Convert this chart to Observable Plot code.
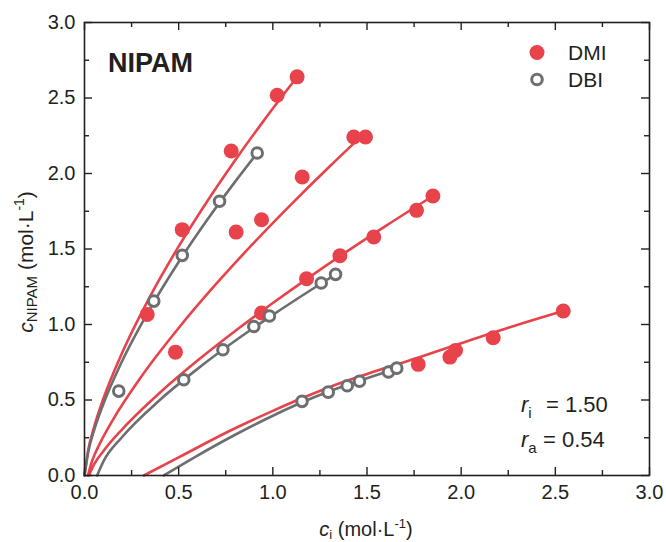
<!DOCTYPE html>
<html><head><meta charset="utf-8">
<script src="https://cdn.jsdelivr.net/npm/d3@7"></script>
<script src="https://cdn.jsdelivr.net/npm/@observablehq/plot@0.6"></script>
<style>body{margin:0;background:#fff} svg{display:block}</style>
</head><body><div id="chart"></div>
<script>
// ---- data ----
const dmiX = [0.333,0.519,0.779,1.023,1.129, 0.483,0.805,0.940,1.156,1.430,1.492, 0.940,1.179,1.356,1.536,1.763,1.850, 1.772,1.940,1.970,2.170,2.542];
const dmiY = [1.067,1.628,2.149,2.518,2.640, 0.817,1.612,1.694,1.977,2.242,2.242, 1.076,1.303,1.455,1.579,1.756,1.851, 0.736,0.784,0.828,0.912,1.089];
const dbiX = [0.182,0.368,0.519,0.717,0.917, 0.527,0.735,0.899,0.982,1.257,1.333, 1.155,1.294,1.395,1.460,1.614,1.658];
const dbiY = [0.559,1.155,1.458,1.816,2.136, 0.634,0.833,0.987,1.056,1.275,1.332, 0.491,0.552,0.594,0.624,0.685,0.711];

// fitted curves
const fitDMI1 = [[0,0],[0.02,0.17],[0.05,0.317],[0.1,0.508],[0.2,0.813],[0.35,1.19],[0.5,1.517],[0.65,1.813],[0.8,2.088],[0.95,2.347],[1.129,2.639]];
const fitDBI1 = [[0,0],[0.02,0.158],[0.05,0.295],[0.1,0.473],[0.2,0.758],[0.35,1.109],[0.5,1.414],[0.65,1.69],[0.8,1.946],[0.917,2.135]];
const fitDMI2 = [[0.018,0],[0.04,0.095],[0.08,0.208],[0.15,0.367],[0.3,0.652],[0.5,0.977],[0.7,1.27],[0.9,1.542],[1.1,1.799],[1.3,2.045],[1.457,2.231]];
const fitDMI3 = [[0.023,0],[0.05,0.072],[0.1,0.161],[0.2,0.306],[0.4,0.548],[0.6,0.761],[0.8,0.957],[1.0,1.142],[1.2,1.319],[1.4,1.489],[1.6,1.653],[1.85,1.851]];
const fitDBI3 = [[0.067,0],[0.1,0.092],[0.2,0.255],[0.4,0.5],[0.6,0.706],[0.8,0.892],[1.0,1.064],[1.2,1.227],[1.333,1.332]];
const fitDMI4 = [[0.315,0],[0.5,0.12],[0.775,0.298],[1.0,0.428],[1.147,0.508],[1.3,0.585],[1.5,0.672],[1.77,0.78],[2.0,0.876],[2.25,0.978],[2.542,1.089]];
const fitDBI4 = [[0.421,0],[0.6,0.132],[0.8,0.27],[1.0,0.396],[1.2,0.508],[1.4,0.602],[1.66,0.709]];

const majorTicks = [0,0.5,1,1.5,2,2.5,3];
const minorTicks = [0.25,0.75,1.25,1.75,2.25,2.75];
const tickLabels = ["0.0","0.5","1.0","1.5","2.0","2.5","3.0"];
const seriesNames = ["DMI","DBI"];
const annot = [["i","= 1.50"],["a","= 0.54"]];

// ---- styling ----
const RED = "#e8424b", GRAY = "#6d6e70", INK = "#231f20";
const W = 666, H = 542, mL = 84, mR = 17, mT = 22, mB = 67;
const pw = W - mL - mR, ph = H - mT - mB;

const dmi = dmiX.map((x,i)=>({x, y: dmiY[i]}));
const dbi = dbiX.map((x,i)=>({x, y: dbiY[i]}));
const lineOpts = (c)=>({x: d=>d[0], y: d=>d[1], stroke: c, strokeWidth: 2.6, curve: "monotone-x"});

const chart = Plot.plot({
  width: W, height: H,
  marginLeft: mL, marginRight: mR, marginTop: mT, marginBottom: mB,
  style: {fontFamily: "Liberation Sans, Arial, sans-serif", fontSize: "20px", color: INK, background: "#fff"},
  x: {domain: [0,3]},
  y: {domain: [0,3]},
  marks: [
    Plot.line(fitDMI1, lineOpts(RED)),
    Plot.line(fitDMI2, lineOpts(RED)),
    Plot.line(fitDMI3, lineOpts(RED)),
    Plot.line(fitDMI4, lineOpts(RED)),
    Plot.line(fitDBI1, lineOpts(GRAY)),
    Plot.line(fitDBI3, lineOpts(GRAY)),
    Plot.line(fitDBI4, lineOpts(GRAY)),
    Plot.dot(dmi, {x: "x", y: "y", r: 7.5, fill: RED, stroke: "none"}),
    Plot.dot(dbi, {x: "x", y: "y", r: 5.3, fill: "#fff", stroke: GRAY, strokeWidth: 3}),
    // inward ticks on all four sides
    Plot.tickX(majorTicks, {x: d=>d, insetTop: ph-8, stroke: INK, strokeWidth: 1.4}),
    Plot.tickX(minorTicks, {x: d=>d, insetTop: ph-5, stroke: INK, strokeWidth: 1.4}),
    Plot.tickX(majorTicks, {x: d=>d, insetBottom: ph-8, stroke: INK, strokeWidth: 1.4}),
    Plot.tickX(minorTicks, {x: d=>d, insetBottom: ph-5, stroke: INK, strokeWidth: 1.4}),
    Plot.tickY(majorTicks, {y: d=>d, insetRight: pw-8, stroke: INK, strokeWidth: 1.4}),
    Plot.tickY(minorTicks, {y: d=>d, insetRight: pw-5, stroke: INK, strokeWidth: 1.4}),
    Plot.tickY(majorTicks, {y: d=>d, insetLeft: pw-8, stroke: INK, strokeWidth: 1.4}),
    Plot.tickY(minorTicks, {y: d=>d, insetLeft: pw-5, stroke: INK, strokeWidth: 1.4}),
    Plot.axisX(majorTicks, {tickSize: 0, tickPadding: 9, tickFormat: (d,i)=>tickLabels[i], label: null, fill: INK}),
    Plot.axisY(majorTicks, {tickSize: 0, tickPadding: 9, tickFormat: (d,i)=>tickLabels[i], label: null, fill: INK}),
    Plot.frame({stroke: INK, strokeWidth: 1.6})
  ]
});
document.getElementById("chart").appendChild(chart);

// ---- annotations, legend, axis titles ----
const svg = d3.select(chart);
const ff = "Liberation Sans, Arial, sans-serif";
const txt = (sel) => sel.append("text").attr("text-anchor", "start").attr("font-family", ff).attr("fill", INK);

txt(svg).attr("x", 108).attr("y", 72).attr("font-size", 27).attr("font-weight", "bold").text("NIPAM");

// legend
const lg = svg.append("g");
lg.append("circle").attr("cx", 537).attr("cy", 52.5).attr("r", 7.5).attr("fill", RED);
lg.append("circle").attr("cx", 537).attr("cy", 79.5).attr("r", 5.3).attr("fill", "#fff").attr("stroke", GRAY).attr("stroke-width", 3);
txt(lg).attr("x", 568).attr("y", 60).attr("font-size", 21).text(seriesNames[0]);
txt(lg).attr("x", 568).attr("y", 87).attr("font-size", 21).text(seriesNames[1]);

// r_i, r_a
annot.forEach(([sub, val], k) => {
  const yb = 412 + k*34.5;
  const t = txt(svg).attr("y", yb).attr("font-size", 22);
  t.append("tspan").attr("x", 521).attr("font-style", "italic").text("r");
  t.append("tspan").attr("font-size", 15).attr("dy", 6).text(sub);
  t.append("tspan").attr("x", k===0 ? 546 : 543).attr("dy", -6).text(val);
});

// x title
const xt = svg.append("text").attr("x", 366).attr("y", 536).attr("text-anchor", "middle")
  .attr("font-family", ff).attr("font-size", 20).attr("fill", INK);
xt.append("tspan").attr("font-style", "italic").text("c");
xt.append("tspan").attr("font-size", 13).attr("dy", 3).text("i");
xt.append("tspan").attr("dy", -3).text(" (mol·L");
xt.append("tspan").attr("font-size", 13).attr("dy", -8).text("-1");
xt.append("tspan").attr("dy", 8).text(")");

// y title
const yt = svg.append("text").attr("transform", "translate(33,262) rotate(-90)").attr("text-anchor", "middle")
  .attr("font-family", ff).attr("font-size", 21).attr("fill", INK);
yt.append("tspan").attr("font-style", "italic").text("c");
yt.append("tspan").attr("font-size", 15).attr("dy", 4).text("NIPAM");
yt.append("tspan").attr("dy", -4).text(" (mol·L");
yt.append("tspan").attr("font-size", 14).attr("dy", -9).text("-1");
yt.append("tspan").attr("dy", 9).text(")");
</script></body></html>
